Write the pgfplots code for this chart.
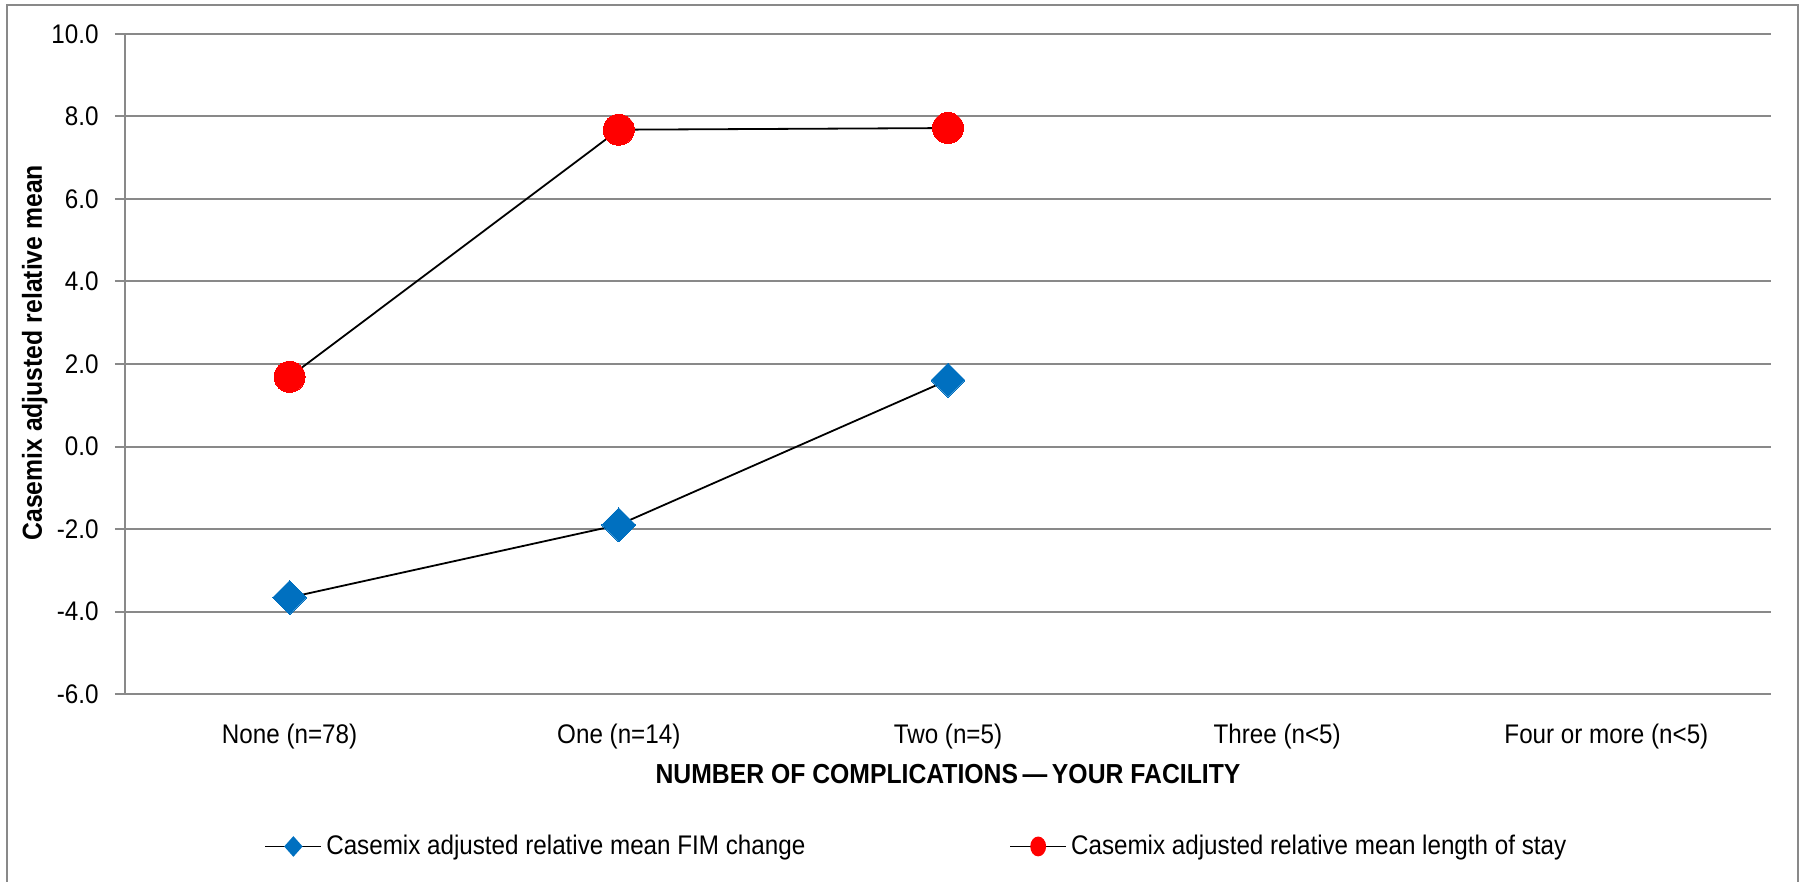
\documentclass[border=0pt]{standalone}
\usepackage{fontspec}
\setmainfont{Liberation Sans}[FakeStretch=0.9]
\usepackage{pgfplots}
\pgfplotsset{compat=1.18}
\definecolor{gridgray}{RGB}{137,137,137}
\definecolor{fimblue}{RGB}{0,112,192}
\definecolor{losred}{RGB}{255,0,0}
\begin{document}
\begin{tikzpicture}
\begin{axis}[
  scale only axis, width=823bp, height=330bp,
  at={(0,0)}, anchor=south west,
  xmin=-0.5, xmax=4.5, ymin=-6, ymax=10,
  xtick={0,1,2,3,4},
  xticklabels={None (n=78), One (n=14), Two (n=5), Three (n<5), Four or more (n<5)},
  ytick={-6,-4,...,10},
  /pgf/number format/.cd, fixed, fixed zerofill, precision=1, assume math mode=true,
  /pgfplots/.cd,
  axis x line*=bottom, axis y line*=left,
  axis line style={gridgray, line width=1bp},
  xtick style={draw=none},
  ytick style={gridgray, line width=1bp},
  major tick length=5bp, tick align=outside,
  ymajorgrids, major grid style={gridgray, line width=1bp},
  tick label style={font=\fontsize{13.5}{15}\selectfont},
  xticklabel style={anchor=base, yshift=-19.5bp},
  yticklabel style={anchor=east, inner sep=0pt, xshift=-8bp},
  xlabel={NUMBER OF COMPLICATIONS\,—\,YOUR FACILITY},
  xlabel style={font=\bfseries\fontsize{13.8}{15}\selectfont, at={(axis description cs:0.5,0)}, anchor=base, yshift=-44.5bp},
  ylabel={Casemix adjusted relative mean},
  ylabel style={font=\bfseries\fontsize{13.8}{15}\selectfont, at={(axis description cs:-0.0505,0.517)}, anchor=base},
  legend columns=2,
  legend style={at={(axis description cs:0.0845,-0.231)}, anchor=west, draw=none, fill=none, inner sep=0pt,
    font=\fontsize{13.5}{15}\selectfont,
    /tikz/every even column/.append style={column sep=100bp}},
]
\addplot[black, line width=0.9bp, mark=square*, mark size=6bp,
  mark options={draw=fimblue, fill=fimblue, rotate=45, line width=0pt},
  legend image code/.code={
    \draw[black, line width=0.9bp] (0bp,0bp) -- (28bp,0bp);
    \fill[fimblue] (14bp,4.5bp) -- (18bp,0bp) -- (14bp,-4.5bp) -- (10bp,0bp) -- cycle;}]
  coordinates {(0,-3.66) (1,-1.90) (2,1.61)};
\addlegendentry{Casemix adjusted relative mean FIM change}
\addplot[black, line width=0.9bp, mark=*, mark size=7.75bp,
  mark options={draw=losred, fill=losred, line width=0pt},
  legend image code/.code={
    \draw[black, line width=0.9bp] (0bp,0bp) -- (28bp,0bp);
    \fill[losred] (14bp,0bp) ellipse (3.5bp and 4.5bp);}]
  coordinates {(0,1.69) (1,7.68) (2,7.72)};
\addlegendentry{Casemix adjusted relative mean length of stay}
\end{axis}
\draw[gridgray, line width=1bp] (-59bp,-110bp) -- (-59bp,344.5bp) -- (836.5bp,344.5bp) -- (836.5bp,-110bp);
\pgfresetboundingbox
\path[use as bounding box] (-62.5bp,-94bp) rectangle (838.5bp,347bp);
\end{tikzpicture}
\end{document}
